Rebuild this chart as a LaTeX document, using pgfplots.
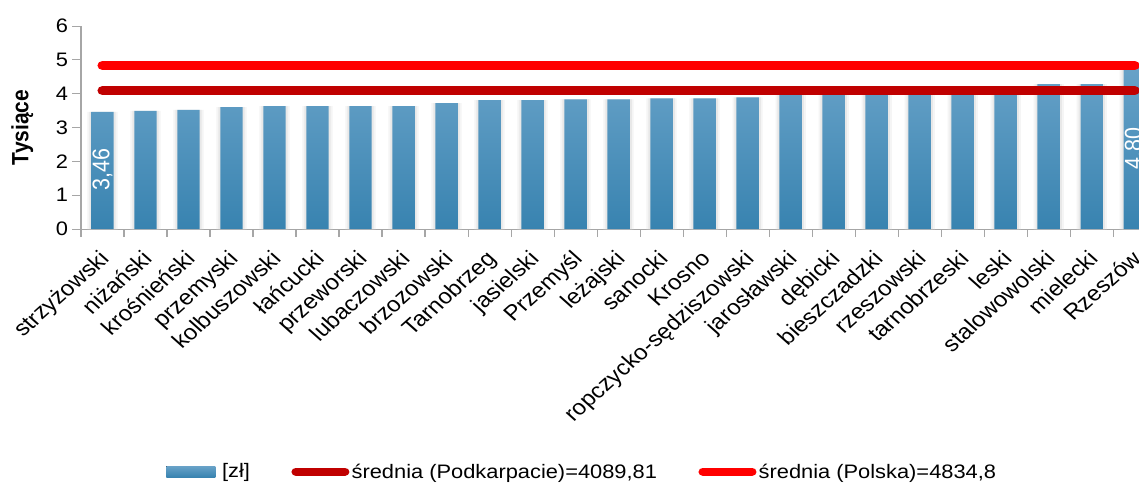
\documentclass[border=0pt]{standalone}
\usepackage{graphicx}
\usepackage{fontspec}
\setmainfont{Liberation Sans}
\usepackage{pgfplots}
\pgfplotsset{compat=1.18}

\definecolor{barTop}{HTML}{68A2C8}
\definecolor{barBot}{HTML}{3883B0}
\definecolor{avgPk}{HTML}{C00000}
\definecolor{avgPl}{HTML}{FF0000}
\definecolor{axgray}{HTML}{A6A6A6}

\begin{document}
% the reference is stretched horizontally, so the whole picture is too
\scalebox{1.12}[1]{%
\begin{tikzpicture}
\begin{axis}[
    name=ax, at={(0pt,0pt)}, anchor=south west,
    scale only axis, width=944.6pt, height=203pt,
    xmin=-0.5, xmax=24.1, ymin=0, ymax=6,
    clip=false,
    axis x line*=bottom, axis y line*=left,
    axis line style={axgray, line width=1pt},
    tick style={axgray, line width=1pt},
    tick align=outside,
    major tick length=8pt,
    ytick={0,1,2,3,4,5,6},
    xtick={-0.5,0.5,...,23.5},
    xticklabels={},
    extra x ticks={0,1,...,24},
    extra x tick labels={strzyżowski,niżański,krośnieński,przemyski,kolbuszowski,łańcucki,przeworski,lubaczowski,brzozowski,Tarnobrzeg,jasielski,Przemyśl,leżajski,sanocki,Krosno,ropczycko-sędziszowski,jarosławski,dębicki,bieszczadzki,rzeszowski,tarnobrzeski,leski,stalowowolski,mielecki,Rzeszów},
    extra x tick style={major tick length=0pt,
        tick label style={rotate=45, anchor=north east, inner sep=1pt,
            xshift=-16pt, yshift=-10pt,
            font=\fontsize{21.5}{21.5}\selectfont}},
    y tick label style={font=\fontsize{19.5}{19.5}\selectfont},
    /pgf/number format/assume math mode=true,
    ylabel={Tysiące},
    ylabel style={font=\fontsize{21}{21}\selectfont\bfseries,
        at={(axis description cs:-0.0555,0.5)}, anchor=center},
    legend columns=3,
    legend style={draw=none, fill=none, inner sep=0pt,
        at={(axis description cs:0.0804,-1.195)}, anchor=west,
        font=\fontsize{19.5}{19.5}\selectfont,
        /tikz/every even column/.append style={column sep=35pt}},
]

% soft shadow behind the bars
\addplot[ybar, bar width=27pt, draw=none, fill=black!4, forget plot]
coordinates {
    (0,3.46)(1,3.49)(2,3.52)(3,3.60)(4,3.63)(5,3.63)(6,3.63)(7,3.63)(8,3.72)
    (9,3.81)(10,3.81)(11,3.83)(12,3.83)(13,3.86)(14,3.86)(15,3.89)(16,3.96)
    (17,3.99)(18,4.01)(19,4.02)(20,4.04)(21,4.06)(22,4.28)(23,4.28)(24,4.80)
};
\addplot[ybar, bar width=23.5pt, draw=none, fill=black!9, forget plot]
coordinates {
    (0,3.46)(1,3.49)(2,3.52)(3,3.60)(4,3.63)(5,3.63)(6,3.63)(7,3.63)(8,3.72)
    (9,3.81)(10,3.81)(11,3.83)(12,3.83)(13,3.86)(14,3.86)(15,3.89)(16,3.96)
    (17,3.99)(18,4.01)(19,4.02)(20,4.04)(21,4.06)(22,4.28)(23,4.28)(24,4.80)
};

% wynagrodzenie wg powiatow [tys. zl]
\addplot[ybar, bar width=20pt, draw=none, top color=barTop, bottom color=barBot,
    legend image code/.code={
        \fill[top color=barTop, bottom color=barBot] (0pt,-5.5pt) rectangle (43.8pt,5.5pt);}]
coordinates {
    (0,3.46)(1,3.49)(2,3.52)(3,3.60)(4,3.63)(5,3.63)(6,3.63)(7,3.63)(8,3.72)
    (9,3.81)(10,3.81)(11,3.83)(12,3.83)(13,3.86)(14,3.86)(15,3.89)(16,3.96)
    (17,3.99)(18,4.01)(19,4.02)(20,4.04)(21,4.06)(22,4.28)(23,4.28)(24,4.80)
};
\addlegendentry{\hspace*{4pt}[zł]}

\addplot[color=avgPk, line width=9pt, line cap=round,
    legend image code/.code={\draw[avgPk, line width=8pt, line cap=round] (4pt,0pt) -- (47.8pt,0pt);}]
coordinates {(0,4.08981)(24,4.08981)};
\addlegendentry{średnia (Podkarpacie)=4089,81}

\addplot[color=avgPl, line width=9pt, line cap=round,
    legend image code/.code={\draw[avgPl, line width=8pt, line cap=round] (4pt,0pt) -- (47.8pt,0pt);}]
coordinates {(0,4.8348)(24,4.8348)};
\addlegendentry{średnia (Polska)=4834,8}

\node[rotate=90, white, font=\fontsize{21.5}{21.5}\selectfont] at (axis cs:0,1.75) {3,46};
\node[rotate=90, white, font=\fontsize{21.5}{21.5}\selectfont] at (axis cs:24,2.37) {4,80};
\end{axis}
\pgfresetboundingbox
\useasboundingbox (-72.3pt,-254pt) rectangle (944.6pt,229pt);
\end{tikzpicture}}
\end{document}
